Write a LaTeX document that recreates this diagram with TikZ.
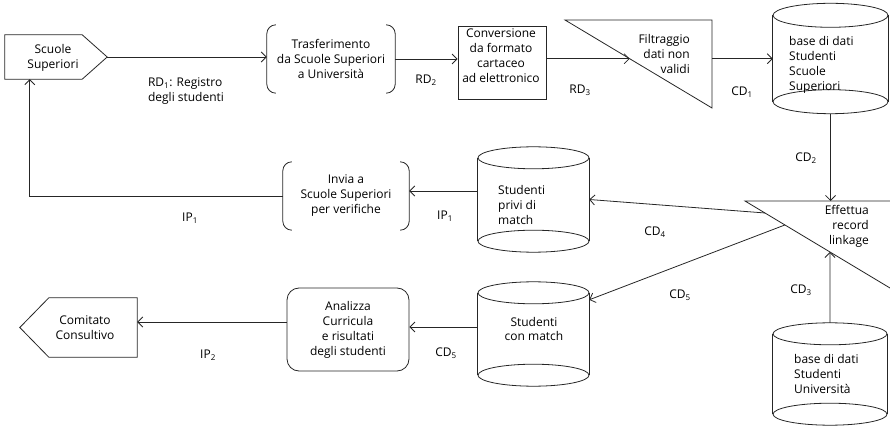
\documentclass[tikz,border=0pt]{standalone}
\usepackage{fontspec}
\setmainfont{Open Sans}
\usetikzlibrary{arrows.meta,calc}

\tikzset{
  line/.style={draw=black!85, line width=0.8pt},
  arr/.style={line, -{Straight Barb[length=5pt,width=10pt,line width=0.8pt]}},
  txt/.style={font=\fontsize{12}{15}\selectfont, inner sep=0pt, align=center},
  lbl/.style={font=\fontsize{12}{15}\selectfont, inner sep=0pt},
  frame/.style={inner sep=0pt, draw=none},
}

% database cylinder: name, centre x, centre y, width, body height, ellipse y radius
\newcommand\dbcyl[6]{%
  \node[frame, minimum width=#4pt, minimum height=#5pt] (#1) at (#2,#3) {};
  \draw[line] (#1.north) ellipse [x radius={#4pt/2}, y radius=#6pt];
  \draw[line] (#1.south) ellipse [x radius={#4pt/2}, y radius=#6pt];
  \draw[line] (#1.north west) -- (#1.south west) (#1.north east) -- (#1.south east);
  \coordinate (#1-t) at ($(#1.north)+(0,-#6)$);
  \coordinate (#1-b) at ($(#1.south)+(0,#6)$);
}
% process box drawn with bracket sides only
\newcommand\bracketsides[1]{%
  \draw[line, rounded corners=9pt] ([xshift=9pt]#1.north west) -- (#1.north west) -- (#1.south west) -- ([xshift=9pt]#1.south west);
  \draw[line, rounded corners=9pt] ([xshift=-9pt]#1.north east) -- (#1.north east) -- (#1.south east) -- ([xshift=-9pt]#1.south east);
}

\begin{document}
\begin{tikzpicture}[x=1pt,y=-1pt]
\useasboundingbox (0,0) rectangle (890,427);

% --- source: Scuole Superiori
\node[frame, minimum width=77pt, minimum height=44pt] (ss) at (43.5,57) {};
\coordinate (ss-tip) at ($(ss.east)+(25,0)$);
\draw[line] (ss.north west) -- (ss.north east) -- (ss-tip) -- (ss.south east) -- (ss.south west) -- cycle;
\node[txt] (sst) at (53,58) {Scuole\\Superiori};

% --- Trasferimento
\node[frame, txt, minimum width=128pt, minimum height=68pt] (tr) at (331,59) {Trasferimento\\da Scuole Superiori\\a Università};
\bracketsides{tr}

% --- Conversione
\node[line, inner sep=0pt, minimum width=88pt, minimum height=73pt] (conv) at (502,62.5) {};
\node[txt] (convt) at (501,56) {Conversione\\da formato\\cartaceo\\ad elettronico};

% --- Filtraggio (triangle)
\coordinate (fi1) at (565,20);
\coordinate (fi2) at (712,20);
\coordinate (fi3) at (712,108);
\draw[line] (fi1) -- (fi2) -- (fi3) -- cycle;
\coordinate (fi-in) at ($(fi1)!0.44!(fi3)$);
\node[txt, align=right, anchor=east] (fit) at (690,54) {Filtraggio\\dati non\\validi};

% --- databases
\dbcyl{db1}{830.5}{58.5}{115}{86}{12}
\node[lbl, align=left, anchor=west] (db1t) at (789,65) {base di dati\\Studenti\\Scuole\\Superiori};

\dbcyl{dbp}{533.5}{199.5}{111}{83}{11}
\node[lbl, align=left, anchor=west] (dbpt) at (498,205) {Studenti\\privi di\\match};

\dbcyl{dbc}{533.5}{334}{111}{82}{11}
\node[txt, font=\fontsize{12}{13.5}\selectfont] (dbct) at (534,329) {Studenti\\con match};

\dbcyl{dbu}{830}{374}{114}{80}{11}
\node[lbl, align=left, anchor=west] (dbut) at (794,374) {base di dati\\Studenti\\Università};

% --- Effettua record linkage (triangle running off the right edge)
\coordinate (ef1) at (745,201);
\coordinate (ef2) at (910,201);
\coordinate (ef3) at (910,300);
\begin{scope}
  \clip (0,0) rectangle (890,427);
  \draw[line] (ef1) -- (ef2) -- (ef3) -- cycle;
\end{scope}
\coordinate (cd4-out) at ($(ef1)!0.121!(ef3)$);
\coordinate (cd5-out) at ($(ef1)!0.242!(ef3)$);
\coordinate (cd3-in) at ($(ef1)!0.515!(ef3)$);
\node[txt, align=right, anchor=east] (eft) at (869,226) {Effettua\\record\\linkage};

% --- Invia a Scuole Superiori
\node[frame, txt, minimum width=126pt, minimum height=68pt] (inv) at (346,196) {Invia a\\Scuole Superiori\\per verifiche};
\bracketsides{inv}

% --- Analizza
\node[line, txt, rounded corners=12pt, minimum width=122pt, minimum height=83pt] (an) at (348,329.5) {Analizza\\Curricula\\e risultati\\degli studenti};

% --- sink: Comitato Consultivo
\node[frame, minimum width=88pt, minimum height=59pt] (com) at (93,327.5) {};
\coordinate (com-tip) at ($(com.west)+(-29,0)$);
\draw[line] (com.north east) -- (com.north west) -- (com-tip) -- (com.south west) -- (com.south east) -- cycle;
\node[txt] (comt) at (85,328) {Comitato\\Consultivo};

% --- flows
\draw[arr] (ss-tip) -- (ss-tip -| tr.west);
\draw[arr] (tr.east) -- (tr.east -| conv.west);
\draw[arr] (fi-in -| conv.east) -- (fi-in);
\draw[arr] (fi-in -| fi2) -- (fi-in -| db1.west);
\draw[arr] (db1-b) -- (db1-b |- ef1);
\draw[arr] (dbu-t) -- (cd3-in);
\draw[arr] (cd4-out) -- (dbp.east);
\draw[arr] (cd5-out) -- ($(dbc.north east)+(0,7)$);
\coordinate (ip1r) at ($(dbp.west)+(0,-8.5)$);
\draw[arr] (ip1r) -- (ip1r -| inv.east);
\draw[arr] (inv.west) -| ($(ss.south west)+(25,0)$);
\coordinate (cd5l) at ($(dbc.west)+(0,-7)$);
\draw[arr] (cd5l) -- (cd5l -| an.east);
\coordinate (ip2s) at ($(an.west)+(0,-7.5)$);
\draw[arr] (ip2s) -- (ip2s -| com.east);

% --- flow labels
\node[lbl, align=left] (rd1) at (186,91.5) {RD\textsubscript{1}: Registro\\degli studenti};
\node[lbl] (rd2) at (426,80) {RD\textsubscript{2}};
\node[lbl] (rd3) at (580,90) {RD\textsubscript{3}};
\node[lbl] (cd1) at (742,92) {CD\textsubscript{1}};
\node[lbl] (cd2) at (806,158) {CD\textsubscript{2}};
\node[lbl] (cd3) at (801,290) {CD\textsubscript{3}};
\node[lbl] (cd4) at (655,232) {CD\textsubscript{4}};
\node[lbl] (cd5r) at (680,295) {CD\textsubscript{5}};
\node[lbl] (cd5lt) at (446,353) {CD\textsubscript{5}};
\node[lbl] (ip1a) at (445,216) {IP\textsubscript{1}};
\node[lbl] (ip1b) at (190,218) {IP\textsubscript{1}};
\node[lbl] (ip2) at (208,355) {IP\textsubscript{2}};
\end{tikzpicture}
\end{document}
